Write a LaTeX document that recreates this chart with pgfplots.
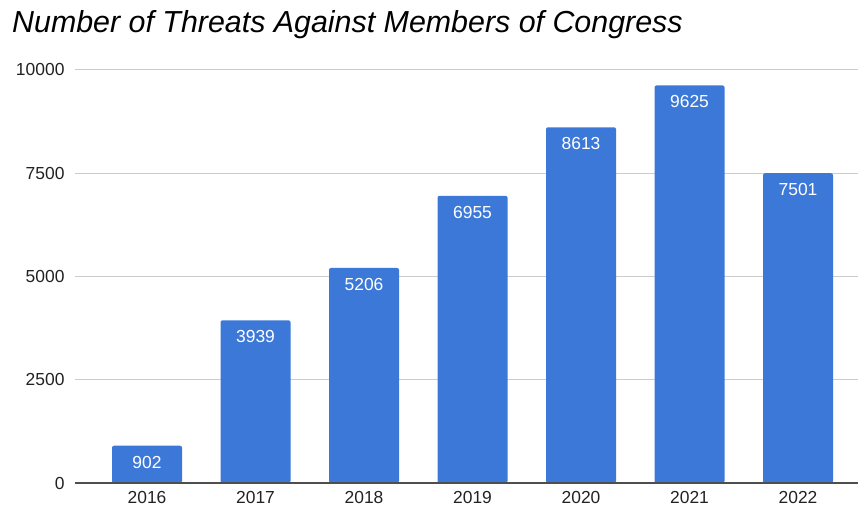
\documentclass[border=0pt]{standalone}
\usepackage{pgfplots}
\pgfplotsset{compat=1.18}
\usepackage{fontspec}
\setmainfont{Liberation Sans}
\definecolor{barblue}{HTML}{3C78D8}
\definecolor{gridgray}{HTML}{CCCCCC}
\definecolor{ticktext}{HTML}{222222}
\begin{document}
\begin{tikzpicture}
\useasboundingbox (-75bp,-29bp) rectangle (784bp,483bp);
\begin{axis}[
  at={(0,0)}, anchor=south west,
  scale only axis,
  width=783bp, height=413bp,
  xmin=-0.664, xmax=6.553,
  ymin=0, ymax=10000,
  ybar, bar width=70bp,
  xtick=data,
  xticklabels={2016,2017,2018,2019,2020,2021,2022},
  ytick={0,2500,5000,7500,10000},
  scaled y ticks=false,
  /pgf/number format/fixed,
  /pgf/number format/1000 sep={},
  /pgf/number format/assume math mode=true,
  ymajorgrids, grid style={gridgray, line width=1bp},
  axis line style={draw=none},
  major tick length=0pt,
  tick label style={font=\fontsize{17.5}{20}\selectfont, text=ticktext},
  yticklabel style={xshift=-7bp},
  xticklabel style={yshift=-5bp},
  title={Number of Threats Against Members of Congress},
  title style={at={(0,1)}, anchor=base west, xshift=-63bp, yshift=32bp,
    font=\fontsize{30.5}{34}\selectfont\itshape, inner sep=0pt},
  nodes near coords,
  nodes near coords style={anchor=north, yshift=-10bp, inner sep=0pt,
    font=\fontsize{17.5}{20}\selectfont, text=white},
  clip=false,
]
\addplot[fill=barblue, draw=none, bar shift=0pt, rounded corners=2bp] coordinates {
  (0,902) (1,3939) (2,5206) (3,6955) (4,8613) (5,9625) (6,7501)
};
\draw[color=ticktext!80, line width=1.2bp] (axis cs:-0.664,0) -- (axis cs:6.553,0);
\end{axis}
\end{tikzpicture}
\end{document}
